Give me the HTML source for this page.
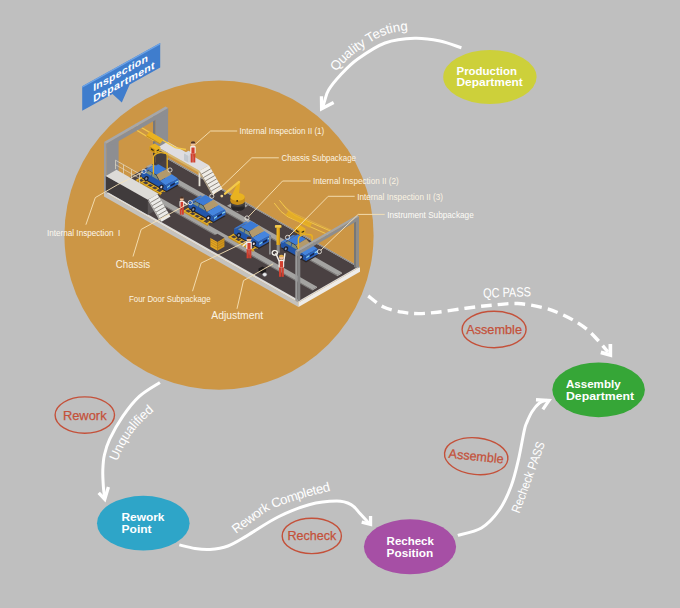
<!DOCTYPE html>
<html lang="en"><head><meta charset="utf-8"><title>Inspection Department Flow</title>
<style>
html,body{margin:0;padding:0;background:#bfbfbf;}
body{width:680px;height:608px;overflow:hidden;font-family:"Liberation Sans", sans-serif;}
svg{display:block;font-family:"Liberation Sans", sans-serif;}
</style></head><body>
<svg width="680" height="608" viewBox="0 0 680 608">
<rect width="680" height="608" fill="#bfbfbf"/>
<circle cx="219" cy="235.2" r="154.6" fill="#cc9645"/>
<g id="illus">
<polygon points="104.0,196.6 298.5,307.1 298.5,302.5 104.0,192.0" fill="#c4c2bf"/>
<polygon points="298.5,307.1 360.0,271.7 360.0,267.1 298.5,302.5" fill="#eeece9"/>
<polygon points="104.0,192.0 298.5,302.5 360.0,267.1 165.5,156.6" fill="#dedcd9"/>
<polygon points="106.2,190.7 299.5,300.5 357.6,267.1 164.3,157.3" fill="#4a4142"/>
<polygon points="121.2,182.1 312.2,290.6 312.2,289.5 121.2,181.0" fill="#7f7e7c"/>
<polygon points="312.2,290.6 317.0,287.8 317.0,286.7 312.2,289.5" fill="#b4b3b1"/>
<polygon points="121.2,181.0 312.2,289.5 317.0,286.7 126.0,178.2" fill="#a4a3a1"/>
<polygon points="146.2,167.7 337.2,276.2 337.2,275.1 146.2,166.6" fill="#7f7e7c"/>
<polygon points="337.2,276.2 342.0,273.5 342.0,272.4 337.2,275.1" fill="#b4b3b1"/>
<polygon points="146.2,166.6 337.2,275.1 342.0,272.4 151.0,163.9" fill="#a4a3a1"/>
<polygon points="164.3,157.3 358.8,267.8 360.0,267.1 165.5,156.6" fill="#8a8886"/>
<polygon points="153.0,150.8 155.6,152.3 155.6,115.3 153.0,113.8" fill="#77787c"/>
<polygon points="155.6,152.3 168.1,145.1 168.1,108.1 155.6,115.3" fill="#8d8e92"/>
<polygon points="153.0,163.8 155.6,165.3 155.6,152.3 153.0,150.8" fill="#3d3738"/>
<polygon points="155.6,165.3 168.1,158.1 168.1,145.1 155.6,152.3" fill="#453f40"/>
<polygon points="354.0,266.9 356.2,268.2 356.2,218.2 354.0,216.9" fill="#777"/>
<polygon points="356.2,268.2 359.0,266.5 359.0,216.5 356.2,218.2" fill="#8d8d8d"/>
<rect x="198.6" y="170.2" width="1.8" height="16" fill="#e8e4da"/>
<polygon points="158.0,149.4 199.5,173.0 199.5,170.8 158.0,147.2" fill="#d6b76e"/>
<polygon points="199.5,173.0 209.0,167.5 209.0,165.3 199.5,170.8" fill="#b9a680"/>
<polygon points="158.0,147.2 199.5,170.8 209.0,165.3 167.5,141.8" fill="#dfdde0"/>
<polygon points="199.5,170.8 213.0,194.5 222.5,189.0 209.0,165.3" fill="#efece6"/>
<polygon points="199.5,173.0 211.0,193.3 213.0,194.5 199.5,170.8" fill="#b9ab90"/>
<polyline points="201.4,174.2 210.9,168.7" fill="none" stroke="#7d766e" stroke-width="0.85"/>
<polyline points="203.4,177.6 212.9,172.1" fill="none" stroke="#7d766e" stroke-width="0.85"/>
<polyline points="205.3,181.0 214.8,175.5" fill="none" stroke="#7d766e" stroke-width="0.85"/>
<polyline points="207.2,184.3 216.7,178.9" fill="none" stroke="#7d766e" stroke-width="0.85"/>
<polyline points="209.1,187.7 218.6,182.3" fill="none" stroke="#7d766e" stroke-width="0.85"/>
<polyline points="211.1,191.1 220.6,185.6" fill="none" stroke="#7d766e" stroke-width="0.85"/>
<polygon points="184.0,160.3 188.5,162.8 188.5,155.8 184.0,153.3" fill="#c3c8ce"/>
<polygon points="188.5,162.8 193.0,160.3 193.0,153.3 188.5,155.8" fill="#d0d4d9"/>
<polygon points="184.0,153.3 188.5,155.8 193.0,153.3 188.5,150.7" fill="#d9dce0"/>
<rect x="190.7" y="153.0" width="2.1" height="9.5" rx="0" fill="#d2402f"/>
<rect x="193.2" y="153.0" width="2.1" height="9.5" rx="0" fill="#d2402f"/>
<rect x="190.2" y="146.1" width="5.5" height="7.4" rx="1" fill="#f3efea"/>
<rect x="191.4" y="147.5" width="3.2" height="6.1" rx="0" fill="#d2402f"/>
<circle cx="193.0" cy="143.9" r="2.3" fill="#efc09a"/>
<path d="M190.7 143.6a2.3 2.3 0 0 1 4.7 0z" fill="#4a2f22"/>
<polyline points="135.5,124.0 175.3,147.6 186.0,149.5" fill="none" stroke="#f3c94a" stroke-width="1.3"/>
<polyline points="131.0,126.7 154.5,141.0" fill="none" stroke="#f3c94a" stroke-width="1.3"/>
<polyline points="167.2,170.0 167.2,154.6" fill="none" stroke="#e9b220" stroke-width="1.3"/>
<polygon points="135.9,180.1 160.9,194.3 162.1,193.6 137.1,179.4" fill="#e9b220"/>
<polygon points="139.7,177.9 164.7,192.1 166.1,191.3 141.1,177.1" fill="#e9b220"/>
<polygon points="135.9,181.2 160.9,195.4 160.9,194.3 135.9,180.1" fill="#c98f17"/>
<polygon points="135.9,180.1 137.2,180.8 142.4,177.8 141.1,177.1" fill="#e9b220"/>
<polygon points="140.4,182.6 141.7,183.3 146.9,180.4 145.6,179.6" fill="#e9b220"/>
<polygon points="144.9,185.2 146.2,185.9 151.4,182.9 150.1,182.2" fill="#e9b220"/>
<polygon points="149.4,187.7 150.7,188.5 155.9,185.5 154.6,184.7" fill="#e9b220"/>
<polygon points="153.9,190.3 155.2,191.0 160.4,188.0 159.1,187.3" fill="#e9b220"/>
<polygon points="158.4,192.8 159.7,193.6 164.9,190.6 163.6,189.8" fill="#e9b220"/>
<polygon points="141.5,178.1 166.5,192.3 178.5,185.4 153.5,171.2" fill="#2a2526"/>
<polygon points="141.5,176.7 141.5,171.7 143.7,172.1 147.3,170.6 155.5,175.2 159.8,181.1 165.7,185.2 166.5,186.9 166.5,190.9" fill="#2256ab"/>
<polygon points="166.5,190.9 178.5,184.0 178.5,180.0 177.7,178.3 165.7,185.2 166.5,186.9" fill="#2b63bd"/>
<polygon points="141.5,171.7 143.7,172.1 155.7,165.2 153.5,164.8" fill="#3c7bd6"/>
<polygon points="143.7,172.1 148.2,170.1 158.4,164.2 155.7,165.2" fill="#6f86a8"/>
<polygon points="148.2,170.1 156.4,174.7 166.6,168.9 158.4,164.2" fill="#3c7bd6"/>
<polygon points="156.4,174.7 159.8,181.1 171.8,174.2 166.6,168.9" fill="#b39a6c"/>
<polygon points="159.8,181.1 165.7,185.2 177.7,178.3 171.8,174.2" fill="#4585de"/>
<polygon points="145.4,172.6 148.8,171.0 152.0,172.8 151.1,175.8" fill="#7f8f7c"/>
<polygon points="151.9,176.3 152.8,173.3 156.2,175.2 158.3,179.9" fill="#7f8f7c"/>
<ellipse cx="146.3" cy="178.6" rx="2.2" ry="2.7" fill="#1b2030" transform="rotate(28 146.3 178.6)"/>
<ellipse cx="146.3" cy="178.6" rx="1.0" ry="1.3" fill="#8d93a3" transform="rotate(28 146.3 178.6)"/>
<ellipse cx="161.3" cy="187.1" rx="2.2" ry="2.7" fill="#1b2030" transform="rotate(28 161.3 187.1)"/>
<ellipse cx="161.3" cy="187.1" rx="1.0" ry="1.3" fill="#e6d6da" transform="rotate(28 161.3 187.1)"/>
<polygon points="167.0,188.1 170.0,186.1 170.0,184.9 167.0,186.9" fill="#8fdcf0"/>
<polygon points="175.2,183.1 178.2,181.7 178.2,180.5 175.2,181.9" fill="#8fdcf0"/>
<polygon points="170.4,186.7 174.8,184.2 174.8,182.4 170.4,184.9" fill="#15244a"/>
<polygon points="150.0,131.6 163.6,139.6 160.2,143.4 146.4,135.2" fill="#e9b220"/>
<polygon points="146.4,135.2 160.2,143.4 160.2,144.6 146.4,136.4" fill="#c98f17"/>
<polygon points="149.6,146.2 154.6,143.6 160.4,147.0 160.4,151.0 155.2,153.4 149.6,150.2" fill="#e9b220"/>
<polygon points="149.6,146.2 155.2,149.4 155.2,153.4 149.6,150.2" fill="#c98f17"/>
<polygon points="151.0,148.2 153.6,149.7 153.6,151.3 151.0,149.8" fill="#3b3016"/>
<polygon points="156.6,150.2 159.2,149.0 159.2,150.4 156.6,151.6" fill="#3b3016"/>
<path d="M153.4 174.5V157.4Q153.6 155.4 155.4 154.4L158.0 153.0Q159.6 152.2 161.6 152.6L165.6 153.3Q167.2 153.6 167.2 155.2" fill="none" stroke="#e9b220" stroke-width="1.4"/>
<polygon points="104.0,192.0 106.6,193.5 106.6,143.5 104.0,142.0" fill="#9b9ca0"/>
<polygon points="106.6,193.5 118.6,186.6 118.6,136.6 106.6,143.5" fill="#8d8e92"/>
<polygon points="106.6,148.1 168.1,112.7 168.1,108.1 106.6,143.5" fill="#8d8e92"/>
<polygon points="104.0,142.0 106.6,143.5 168.1,108.1 165.5,106.6" fill="#a6a7aa"/>
<polygon points="105.8,191.0 147.8,214.8 147.8,199.8 105.8,176.0" fill="#403b3c"/>
<polygon points="147.8,214.8 158.5,208.7 158.5,193.7 147.8,199.8" fill="#5a5556"/>
<polygon points="105.8,176.0 147.8,199.8 158.5,193.7 116.5,169.8" fill="#dddbd7"/>
<polygon points="148.5,199.4 161.5,221.8 170.5,216.6 157.5,194.2" fill="#ecebe8"/>
<polyline points="150.4,202.6 159.4,197.4" fill="none" stroke="#7d7873" stroke-width="0.85"/>
<polyline points="152.2,205.8 161.2,200.6" fill="none" stroke="#7d7873" stroke-width="0.85"/>
<polyline points="154.1,209.0 163.1,203.8" fill="none" stroke="#7d7873" stroke-width="0.85"/>
<polyline points="155.9,212.2 164.9,207.0" fill="none" stroke="#7d7873" stroke-width="0.85"/>
<polyline points="157.8,215.4 166.8,210.2" fill="none" stroke="#7d7873" stroke-width="0.85"/>
<polyline points="159.6,218.6 168.6,213.4" fill="none" stroke="#7d7873" stroke-width="0.85"/>
<polygon points="148.5,201.4 159.5,220.7 161.5,221.8 148.5,199.4" fill="#bdbab5"/>
<polyline points="115.5,169.2 115.5,160.2" fill="none" stroke="#e4dcc8" stroke-width="0.7"/>
<polyline points="123.5,173.8 123.5,164.8" fill="none" stroke="#e4dcc8" stroke-width="0.7"/>
<polyline points="131.5,178.3 131.5,169.3" fill="none" stroke="#e4dcc8" stroke-width="0.7"/>
<polyline points="139.5,182.9 139.5,173.9" fill="none" stroke="#e4dcc8" stroke-width="0.7"/>
<polyline points="115.5,160.2 141.0,174.7" fill="none" stroke="#e4dcc8" stroke-width="0.7"/>
<polyline points="115.5,164.7 141.0,179.2" fill="none" stroke="#e4dcc8" stroke-width="0.6"/>
<polygon points="227.0,205.8 237.5,211.8 248.0,205.7 237.5,199.8" fill="#a3a2a0"/>
<ellipse cx="238.0" cy="207.3" rx="6.8" ry="3.8" fill="#262324"/>
<rect x="231.2" y="202.9" width="13.6" height="4.4" fill="#343031"/>
<ellipse cx="238.0" cy="202.9" rx="6.8" ry="3.8" fill="#454142"/>
<ellipse cx="237.6" cy="201.1" rx="7.2" ry="3.9" fill="#c98f17"/>
<rect x="230.4" y="196.9" width="14.4" height="4.2" fill="#c98f17"/>
<ellipse cx="237.6" cy="196.9" rx="7.2" ry="3.9" fill="#e9b220"/>
<circle cx="237.2" cy="200.9" r="0.9" fill="#3a2d12"/>
<path d="M231.8 195.5L238.4 181.1L240.2 181.9L238.6 197.0Z" fill="#e9b220"/>
<path d="M239.0 181.9L225.0 193.7" stroke="#f3c94a" stroke-width="2.3" stroke-linecap="round" fill="none"/>
<circle cx="221.8" cy="196.1" r="1.4" fill="#f3d692"/>
<polygon points="182.9,210.9 207.9,225.1 209.1,224.4 184.1,210.2" fill="#e9b220"/>
<polygon points="186.7,208.7 211.7,222.9 213.1,222.1 188.1,207.9" fill="#e9b220"/>
<polygon points="182.9,212.0 207.9,226.2 207.9,225.1 182.9,210.9" fill="#c98f17"/>
<polygon points="182.9,210.9 184.2,211.6 189.4,208.6 188.1,207.9" fill="#e9b220"/>
<polygon points="187.4,213.4 188.7,214.2 193.9,211.2 192.6,210.5" fill="#e9b220"/>
<polygon points="191.9,216.0 193.2,216.7 198.4,213.8 197.1,213.0" fill="#e9b220"/>
<polygon points="196.4,218.6 197.7,219.3 202.9,216.3 201.6,215.6" fill="#e9b220"/>
<polygon points="200.9,221.1 202.2,221.9 207.4,218.9 206.1,218.1" fill="#e9b220"/>
<polygon points="205.4,223.7 206.7,224.4 211.9,221.4 210.6,220.7" fill="#e9b220"/>
<polygon points="188.5,208.9 213.5,223.1 225.5,216.2 200.5,202.0" fill="#2a2526"/>
<polygon points="188.5,207.5 188.5,202.5 190.7,203.0 194.3,201.4 202.5,206.1 206.8,211.9 212.7,216.1 213.5,217.7 213.5,221.7" fill="#2256ab"/>
<polygon points="213.5,221.7 225.5,214.8 225.5,210.8 224.7,209.2 212.7,216.1 213.5,217.7" fill="#2b63bd"/>
<polygon points="188.5,202.5 190.7,203.0 202.7,196.1 200.5,195.6" fill="#3c7bd6"/>
<polygon points="190.7,203.0 195.2,200.9 205.4,195.0 202.7,196.1" fill="#6f86a8"/>
<polygon points="195.2,200.9 203.4,205.6 213.6,199.7 205.4,195.0" fill="#3c7bd6"/>
<polygon points="203.4,205.6 206.8,211.9 218.8,205.0 213.6,199.7" fill="#b39a6c"/>
<polygon points="206.8,211.9 212.7,216.1 224.7,209.2 218.8,205.0" fill="#4585de"/>
<polygon points="192.4,203.5 195.8,201.9 199.0,203.7 198.1,206.7" fill="#7f8f7c"/>
<polygon points="198.9,207.1 199.8,204.1 203.2,206.1 205.3,210.8" fill="#7f8f7c"/>
<ellipse cx="193.3" cy="209.5" rx="2.2" ry="2.7" fill="#1b2030" transform="rotate(28 193.3 209.5)"/>
<ellipse cx="193.3" cy="209.5" rx="1.0" ry="1.3" fill="#8d93a3" transform="rotate(28 193.3 209.5)"/>
<ellipse cx="208.3" cy="218.0" rx="2.2" ry="2.7" fill="#1b2030" transform="rotate(28 208.3 218.0)"/>
<ellipse cx="208.3" cy="218.0" rx="1.0" ry="1.3" fill="#e6d6da" transform="rotate(28 208.3 218.0)"/>
<polygon points="214.0,218.9 217.0,216.9 217.0,215.7 214.0,217.7" fill="#8fdcf0"/>
<polygon points="222.2,213.9 225.2,212.5 225.2,211.3 222.2,212.7" fill="#8fdcf0"/>
<polygon points="217.4,217.6 221.8,215.0 221.8,213.2 217.4,215.8" fill="#15244a"/>
<rect x="179.8" y="206.6" width="1.8" height="8.1" rx="0" fill="#d2402f"/>
<rect x="182.0" y="206.6" width="1.8" height="8.1" rx="0" fill="#d2402f"/>
<rect x="179.5" y="200.8" width="4.7" height="6.3" rx="1" fill="#f3efea"/>
<rect x="180.5" y="201.9" width="2.7" height="5.2" rx="0" fill="#d2402f"/>
<path d="M183.6 201.7L186.8 204.4" stroke="#f3efea" stroke-width="1.5" fill="none" stroke-linecap="round"/>
<circle cx="181.8" cy="198.9" r="2.0" fill="#efc09a"/>
<path d="M179.8 198.6a2.0 2.0 0 0 1 4.0 0z" fill="#4a2f22"/>
<polygon points="228.4,236.8 253.4,251.0 254.6,250.3 229.6,236.1" fill="#e9b220"/>
<polygon points="232.2,234.6 257.2,248.8 258.6,248.0 233.6,233.8" fill="#e9b220"/>
<polygon points="228.4,237.9 253.4,252.1 253.4,251.0 228.4,236.8" fill="#c98f17"/>
<polygon points="228.4,236.7 229.7,237.5 234.9,234.5 233.6,233.7" fill="#e9b220"/>
<polygon points="232.9,239.3 234.2,240.0 239.4,237.0 238.1,236.3" fill="#e9b220"/>
<polygon points="237.4,241.8 238.7,242.6 243.9,239.6 242.6,238.9" fill="#e9b220"/>
<polygon points="241.9,244.4 243.2,245.1 248.4,242.2 247.1,241.4" fill="#e9b220"/>
<polygon points="246.4,247.0 247.7,247.7 252.9,244.7 251.6,244.0" fill="#e9b220"/>
<polygon points="250.9,249.5 252.2,250.3 257.4,247.3 256.1,246.5" fill="#e9b220"/>
<polygon points="234.0,234.8 259.0,249.0 271.0,242.1 246.0,227.9" fill="#2a2526"/>
<polygon points="234.0,233.4 234.0,228.4 236.2,228.8 239.8,227.3 248.0,231.9 252.3,237.8 258.2,241.9 259.0,243.6 259.0,247.6" fill="#2256ab"/>
<polygon points="259.0,247.6 271.0,240.7 271.0,236.7 270.2,235.0 258.2,241.9 259.0,243.6" fill="#2b63bd"/>
<polygon points="234.0,228.4 236.2,228.8 248.2,221.9 246.0,221.5" fill="#3c7bd6"/>
<polygon points="236.2,228.8 240.7,226.8 250.9,220.9 248.2,221.9" fill="#6f86a8"/>
<polygon points="240.7,226.8 248.9,231.4 259.1,225.5 250.9,220.9" fill="#3c7bd6"/>
<polygon points="248.9,231.4 252.3,237.8 264.3,230.9 259.1,225.5" fill="#b39a6c"/>
<polygon points="252.3,237.8 258.2,241.9 270.2,235.0 264.3,230.9" fill="#4585de"/>
<polygon points="237.9,229.3 241.3,227.7 244.5,229.5 243.6,232.5" fill="#7f8f7c"/>
<polygon points="244.4,233.0 245.3,230.0 248.7,231.9 250.8,236.6" fill="#7f8f7c"/>
<ellipse cx="238.8" cy="235.3" rx="2.2" ry="2.7" fill="#1b2030" transform="rotate(28 238.8 235.3)"/>
<ellipse cx="238.8" cy="235.3" rx="1.0" ry="1.3" fill="#8d93a3" transform="rotate(28 238.8 235.3)"/>
<ellipse cx="253.8" cy="243.8" rx="2.2" ry="2.7" fill="#1b2030" transform="rotate(28 253.8 243.8)"/>
<ellipse cx="253.8" cy="243.8" rx="1.0" ry="1.3" fill="#e6d6da" transform="rotate(28 253.8 243.8)"/>
<polygon points="259.4,244.8 262.4,242.8 262.4,241.6 259.4,243.6" fill="#8fdcf0"/>
<polygon points="267.7,239.8 270.7,238.3 270.7,237.1 267.7,238.6" fill="#8fdcf0"/>
<polygon points="262.9,243.4 267.2,240.9 267.2,239.1 262.9,241.6" fill="#15244a"/>
<polyline points="279.4,200.2 287.0,209.5 295.0,215.7 335.0,233.0" fill="none" stroke="#f3c94a" stroke-width="1.0" opacity="0.95"/>
<polyline points="274.2,203.0 281.0,211.5 288.0,216.9 329.5,235.3" fill="none" stroke="#f3c94a" stroke-width="1.0" opacity="0.95"/>
<polyline points="283.0,205.0 292.0,212.5 332.0,230.5" fill="none" stroke="#f3c94a" stroke-width="0.7" opacity="0.6"/>
<rect x="269" y="235.5" width="1.8" height="19" fill="#8b8b8b"/>
<rect x="276.7" y="240" width="3" height="12.8" fill="#8d8c8a"/>
<rect x="276.5" y="227.4" width="3.4" height="17.5" fill="#e9b220"/>
<rect x="278.7" y="227.4" width="1.2" height="17.5" fill="#c98f17"/>
<rect x="274.9" y="225" width="6.6" height="2.8" rx="0.9" fill="#f3c94a"/>
<polyline points="312.2,251.5 312.2,236.1" fill="none" stroke="#e9b220" stroke-width="1.3"/>
<polygon points="281.0,248.3 306.0,262.5 318.0,255.6 293.0,241.4" fill="#2a2526"/>
<polygon points="281.0,246.9 281.0,241.9 283.2,242.4 286.8,240.8 295.0,245.5 299.3,251.3 305.2,255.5 306.0,257.1 306.0,261.1" fill="#2256ab"/>
<polygon points="306.0,261.1 318.0,254.2 318.0,250.2 317.2,248.6 305.2,255.5 306.0,257.1" fill="#2b63bd"/>
<polygon points="281.0,241.9 283.2,242.4 295.2,235.5 293.0,235.0" fill="#3c7bd6"/>
<polygon points="283.2,242.4 287.7,240.3 297.9,234.4 295.2,235.5" fill="#6f86a8"/>
<polygon points="287.7,240.3 295.9,245.0 306.1,239.1 297.9,234.4" fill="#3c7bd6"/>
<polygon points="295.9,245.0 299.3,251.3 311.3,244.4 306.1,239.1" fill="#b39a6c"/>
<polygon points="299.3,251.3 305.2,255.5 317.2,248.6 311.3,244.4" fill="#4585de"/>
<polygon points="284.9,242.8 288.3,241.2 291.5,243.1 290.6,246.1" fill="#7f8f7c"/>
<polygon points="291.4,246.5 292.3,243.5 295.7,245.5 297.8,250.2" fill="#7f8f7c"/>
<ellipse cx="285.8" cy="248.9" rx="2.2" ry="2.7" fill="#1b2030" transform="rotate(28 285.8 248.9)"/>
<ellipse cx="285.8" cy="248.9" rx="1.0" ry="1.3" fill="#8d93a3" transform="rotate(28 285.8 248.9)"/>
<ellipse cx="300.8" cy="257.4" rx="2.2" ry="2.7" fill="#1b2030" transform="rotate(28 300.8 257.4)"/>
<ellipse cx="300.8" cy="257.4" rx="1.0" ry="1.3" fill="#e6d6da" transform="rotate(28 300.8 257.4)"/>
<polygon points="306.4,258.3 309.4,256.3 309.4,255.1 306.4,257.1" fill="#8fdcf0"/>
<polygon points="314.7,253.3 317.7,251.9 317.7,250.7 314.7,252.1" fill="#8fdcf0"/>
<polygon points="309.9,257.0 314.2,254.4 314.2,252.6 309.9,255.2" fill="#15244a"/>
<polygon points="288.5,210.6 312.0,223.4 309.6,227.8 285.6,215.0" fill="#e9b220" opacity="0.8"/>
<polygon points="294.6,227.7 299.6,225.1 305.4,228.5 305.4,232.5 300.2,234.9 294.6,231.7" fill="#e9b220"/>
<polygon points="294.6,227.7 300.2,230.9 300.2,234.9 294.6,231.7" fill="#c98f17"/>
<polygon points="296.0,229.7 298.6,231.2 298.6,232.8 296.0,231.3" fill="#3b3016"/>
<polygon points="301.6,231.7 304.2,230.5 304.2,231.9 301.6,233.1" fill="#3b3016"/>
<path d="M298.4 256.0V238.9Q298.6 236.9 300.4 235.9L303.0 234.5Q304.6 233.7 306.6 234.1L310.6 234.8Q312.2 235.1 312.2 236.7" fill="none" stroke="#e9b220" stroke-width="1.4"/>
<polygon points="210.4,246.7 217.4,250.7 217.4,241.7 210.4,237.7" fill="#e2a524"/>
<polygon points="217.4,250.7 224.4,246.7 224.4,237.7 217.4,241.7" fill="#d0951c"/>
<polygon points="210.4,237.7 217.4,241.7 224.4,237.7 217.4,233.7" fill="#4a4142"/>
<polyline points="210.4,244.2 217.4,248.2 224.4,244.2" fill="none" stroke="#a87512" stroke-width="0.5"/>
<polyline points="210.4,241.9 217.4,245.9 224.4,241.9" fill="none" stroke="#a87512" stroke-width="0.5"/>
<polyline points="210.4,239.6 217.4,243.6 224.4,239.6" fill="none" stroke="#a87512" stroke-width="0.5"/>
<rect x="246.6" y="248.6" width="2.2" height="9.7" rx="0" fill="#d2402f"/>
<rect x="249.2" y="248.6" width="2.2" height="9.7" rx="0" fill="#d2402f"/>
<rect x="246.2" y="241.6" width="5.6" height="7.6" rx="1" fill="#f3efea"/>
<rect x="247.4" y="243.0" width="3.2" height="6.3" rx="0" fill="#d2402f"/>
<path d="M246.8 242.7L243.1 245.9" stroke="#f3efea" stroke-width="1.5" fill="none" stroke-linecap="round"/>
<circle cx="249.0" cy="239.3" r="2.4" fill="#efc09a"/>
<path d="M246.6 239.0a2.4 2.4 0 0 1 4.8 0z" fill="#4a2f22"/>
<path d="M258.5 268.6l4-2.2 3.6 2v3.2l-4 2.2-3.6-2z" fill="#1e1b1c"/>
<ellipse cx="264.7" cy="274.6" rx="2.1" ry="1.8" fill="#ececee" stroke="#8d9097" stroke-width="0.5"/>
<rect x="279.0" y="266.9" width="2.2" height="9.9" rx="0" fill="#d2402f"/>
<rect x="281.6" y="266.9" width="2.2" height="9.9" rx="0" fill="#d2402f"/>
<rect x="278.5" y="259.7" width="5.7" height="7.7" rx="1" fill="#f3efea"/>
<rect x="279.8" y="261.1" width="3.3" height="6.4" rx="0" fill="#d2402f"/>
<path d="M279.0 260.8L275.9 253.7M283.8 260.8L284.9 253.7" stroke="#f3efea" stroke-width="1.5" fill="none" stroke-linecap="round"/>
<circle cx="281.4" cy="257.4" r="2.4" fill="#efc09a"/>
<path d="M279.0 257.1a2.4 2.4 0 0 1 4.8 0z" fill="#e2b04a"/>
<ellipse cx="274.8" cy="252.8" rx="2.7" ry="2.3" fill="none" stroke="#eef0ea" stroke-width="1.2"/>
<polygon points="297.5,255.3 359.0,219.9 359.0,216.5 297.5,251.9" fill="#8d8d8d"/>
<polygon points="295.3,250.7 297.5,251.9 359.0,216.5 356.8,215.3" fill="#a5a5a5"/>
<polygon points="295.3,300.7 297.5,301.9 297.5,251.9 295.3,250.7" fill="#9b9b9b"/>
<polygon points="297.5,301.9 300.3,300.3 300.3,250.3 297.5,251.9" fill="#858585"/>
</g>
<polyline points="237.2,131.0 210.6,131.0 195.3,144.4" fill="none" stroke="#f6e2b8" stroke-width="0.9" stroke-linejoin="round"/>
<text x="239.5" y="134.3" font-size="8.5" fill="#fbf3e2" textLength="84.8" lengthAdjust="spacingAndGlyphs">Internal Inspection II (1)</text>
<polyline points="278.8,157.8 251.8,157.8 213.2,194.8" fill="none" stroke="#f6e2b8" stroke-width="0.9" stroke-linejoin="round"/>
<circle cx="211.8" cy="196.2" r="2.1" fill="none" stroke="#f4efe6" stroke-width="0.8"/>
<text x="281.6" y="161" font-size="8.5" fill="#fbf3e2" textLength="74.4" lengthAdjust="spacingAndGlyphs">Chassis Subpackage</text>
<polyline points="310.6,181.0 282.6,181.0 248.6,216.6" fill="none" stroke="#f6e2b8" stroke-width="0.9" stroke-linejoin="round"/>
<circle cx="247.0" cy="218.0" r="2.1" fill="none" stroke="#f4efe6" stroke-width="0.8"/>
<text x="313" y="184.4" font-size="8.5" fill="#fbf3e2" textLength="85.8" lengthAdjust="spacingAndGlyphs">Internal Inspection II (2)</text>
<polyline points="354.7,196.3 328.2,196.3 289.0,236.0" fill="none" stroke="#f6e2b8" stroke-width="0.9" stroke-linejoin="round"/>
<circle cx="287.5" cy="237.4" r="2.1" fill="none" stroke="#f4efe6" stroke-width="0.8"/>
<text x="357.2" y="199.6" font-size="8.5" fill="#fbf3e2" textLength="85.8" lengthAdjust="spacingAndGlyphs">Internal Inspection II (3)</text>
<polyline points="384.7,214.4 358.2,214.4 320.8,250.2" fill="none" stroke="#f6e2b8" stroke-width="0.9" stroke-linejoin="round"/>
<circle cx="319.4" cy="251.6" r="2.1" fill="none" stroke="#f4efe6" stroke-width="0.8"/>
<text x="387.2" y="217.8" font-size="8.5" fill="#fdfbf6" textLength="86.5" lengthAdjust="spacingAndGlyphs">Instrument Subpackage</text>
<polyline points="85.9,224.7 95.3,197.6 117.6,184.7 142.4,172.2" fill="none" stroke="#f6e2b8" stroke-width="0.9" stroke-linejoin="round"/>
<circle cx="144.0" cy="171.3" r="2.1" fill="none" stroke="#f4efe6" stroke-width="0.8"/>
<text x="47" y="235.8" font-size="8.5" fill="#fdf8ee" textLength="73.2" lengthAdjust="spacingAndGlyphs">Internal Inspection  I</text>
<polyline points="133.0,256.5 141.2,229.4 188.5,203.6" fill="none" stroke="#f6e2b8" stroke-width="0.9" stroke-linejoin="round"/>
<circle cx="190.3" cy="202.6" r="2.1" fill="none" stroke="#f4efe6" stroke-width="0.8"/>
<text x="115.8" y="267.5" font-size="10.6" fill="#fbf3e2" textLength="34.4" lengthAdjust="spacingAndGlyphs">Chassis</text>
<polyline points="192.5,291.2 201.2,263.0 248.2,240.6" fill="none" stroke="#f6e2b8" stroke-width="0.9" stroke-linejoin="round"/>
<text x="129" y="302.2" font-size="8.5" fill="#fbf3e2" textLength="81.6" lengthAdjust="spacingAndGlyphs">Four Door Subpackage</text>
<polyline points="237.0,308.8 243.5,280.6 273.2,263.8" fill="none" stroke="#f6e2b8" stroke-width="0.9" stroke-linejoin="round"/>
<text x="211.3" y="319.4" font-size="10.6" fill="#fbf3e2" textLength="51.8" lengthAdjust="spacingAndGlyphs">Adjustment</text>
<circle cx="170.0" cy="170.0" r="2.1" fill="none" stroke="#f4efe6" stroke-width="0.8"/>
<circle cx="274.8" cy="252.8" r="2.4" fill="none" stroke="#f4efe6" stroke-width="0.8"/>
<g transform="matrix(1 -0.556 0 1 82.2 86.3)"><path d="M0 0H78V24.5H47.5L39.6 38.1L30.3 24.5H0Z" fill="#3f7dcd"/><path d="M0 0H78V1.5H0Z" fill="#6ea4e6"/><text x="11" y="11.3" font-size="10.5" font-weight="700" fill="#fff" letter-spacing="0.25">Inspection</text><text x="11" y="22.3" font-size="10.5" font-weight="700" fill="#fff" letter-spacing="0.35">Department</text></g>
<ellipse cx="489.9" cy="77" rx="46.7" ry="27" fill="#cdd03a"/>
<text x="456.5" y="74.8" font-size="10.8" font-weight="700" fill="#fff" textLength="60.5" lengthAdjust="spacingAndGlyphs">Production</text>
<text x="456.5" y="86.3" font-size="10.8" font-weight="700" fill="#fff" textLength="66.3" lengthAdjust="spacingAndGlyphs">Department</text>
<ellipse cx="598.6" cy="389.8" rx="46.3" ry="27.4" fill="#36a637"/>
<text x="566" y="388.2" font-size="10.8" font-weight="700" fill="#fff" textLength="54.6" lengthAdjust="spacingAndGlyphs">Assembly</text>
<text x="566" y="399.8" font-size="10.8" font-weight="700" fill="#fff" textLength="68.2" lengthAdjust="spacingAndGlyphs">Department</text>
<ellipse cx="143.3" cy="523.2" rx="46.3" ry="27.4" fill="#2ea5c8"/>
<text x="121.5" y="521.4" font-size="10.8" font-weight="700" fill="#fff" textLength="43" lengthAdjust="spacingAndGlyphs">Rework</text>
<text x="121.5" y="533.2" font-size="10.8" font-weight="700" fill="#fff" textLength="30.1" lengthAdjust="spacingAndGlyphs">Point</text>
<ellipse cx="410" cy="546.8" rx="46.1" ry="27.5" fill="#a64fa5"/>
<text x="386.6" y="545.1" font-size="10.8" font-weight="700" fill="#fff" textLength="47.2" lengthAdjust="spacingAndGlyphs">Recheck</text>
<text x="386.6" y="556.7" font-size="10.8" font-weight="700" fill="#fff" textLength="46.6" lengthAdjust="spacingAndGlyphs">Position</text>
<g><ellipse cx="84.8" cy="415.1" rx="29.7" ry="18.2" fill="none" stroke="#c4513a" stroke-width="1.4"/><text x="62.9" y="419.6" font-size="12.9" fill="#c4513a" stroke="#c4513a" stroke-width="0.25" textLength="43.7" lengthAdjust="spacingAndGlyphs">Rework</text></g>
<g><ellipse cx="494.1" cy="329.5" rx="32" ry="18.2" fill="none" stroke="#c4513a" stroke-width="1.4"/><text x="466.2" y="334.0" font-size="12.9" fill="#c4513a" stroke="#c4513a" stroke-width="0.25" textLength="55.8" lengthAdjust="spacingAndGlyphs">Assemble</text></g>
<g transform="rotate(6 476.2 456.2)"><ellipse cx="476.2" cy="456.2" rx="31.8" ry="18.3" fill="none" stroke="#c4513a" stroke-width="1.4"/><text x="448.6" y="460.7" font-size="12.9" fill="#c4513a" stroke="#c4513a" stroke-width="0.25" textLength="55.3" lengthAdjust="spacingAndGlyphs">Assemble</text></g>
<g><ellipse cx="311.8" cy="535.9" rx="29.6" ry="17.7" fill="none" stroke="#c4513a" stroke-width="1.4"/><text x="287.4" y="540.4" font-size="12.9" fill="#c4513a" stroke="#c4513a" stroke-width="0.25" textLength="48.9" lengthAdjust="spacingAndGlyphs">Recheck</text></g>
<path d="M461.4 47.8C457.8 46.7 447.8 42.6 440.0 41.0C432.2 39.4 423.9 37.9 414.7 38.2C405.5 38.5 394.6 39.5 385.0 43.0C375.4 46.5 364.8 54.0 357.4 59.3C350.0 64.6 345.3 69.9 340.5 75.0C335.7 80.1 331.3 85.5 328.7 89.8C326.1 94.1 325.5 98.3 324.6 101.0C323.7 103.7 323.4 105.2 323.2 106.0" fill="none" stroke="#fff" stroke-width="3" stroke-linecap="butt"/>
<path d="M320.0 111.4L319.8 96.2L323.1 96.2L323.2 106.0L332.9 101.1L334.4 104.0Z" fill="#fff"/>
<path d="M368.2 296.0C370.8 297.8 377.8 304.3 383.5 307.0C389.2 309.7 396.5 311.1 402.4 312.2C408.3 313.3 412.9 313.6 418.8 313.6C424.7 313.6 429.8 313.1 437.6 312.2C445.5 311.3 456.9 309.4 465.9 308.2C474.9 307.0 483.2 306.0 491.8 305.2C500.4 304.4 509.2 303.1 517.6 303.5C526.0 303.9 535.5 305.9 542.4 307.5C549.3 309.1 553.7 310.9 558.8 313.0C563.9 315.1 568.3 317.3 573.0 320.0C577.7 322.7 582.7 325.9 587.0 329.4C591.3 332.9 595.3 337.4 598.8 341.2C602.3 345.0 606.5 350.2 608.0 352.0" fill="none" stroke="#fff" stroke-width="3.4" stroke-linecap="butt" stroke-dasharray="10.8 6.0"/>
<path d="M612.2 357.5L600.3 354.2L601.3 350.6L608.5 352.6L608.5 343.9L612.2 343.9Z" fill="#fff"/>
<path d="M159.9 382.5C156.5 384.8 145.5 390.8 139.3 396.4C133.1 402.0 127.8 409.1 122.9 416.2C118.0 423.3 112.8 432.7 109.7 439.2C106.6 445.7 105.6 449.9 104.4 455.0C103.2 460.1 103.0 464.7 102.8 470.0C102.6 475.3 103.1 482.5 103.4 487.0C103.7 491.5 104.4 495.3 104.6 497.0" fill="none" stroke="#fff" stroke-width="3" stroke-linecap="butt"/>
<path d="M105.5 502.4L97.5 494.0L99.9 491.7L104.0 496.0L106.8 486.5L110.0 487.4Z" fill="#fff"/>
<path d="M179.3 544.9C181.9 545.5 189.9 547.7 195.0 548.5C200.1 549.3 204.5 549.9 210.0 549.5C215.5 549.1 221.8 548.3 228.0 546.0C234.2 543.7 238.9 540.4 247.2 535.6C255.5 530.8 267.7 522.1 278.0 517.0C288.3 511.9 299.2 507.4 309.0 504.7C318.8 502.0 329.8 501.0 336.8 501.0C343.8 501.0 347.2 502.5 351.1 504.6C355.0 506.7 357.1 510.5 360.0 513.6C362.9 516.7 367.2 521.4 368.6 523.0" fill="none" stroke="#fff" stroke-width="3" stroke-linecap="butt"/>
<path d="M372.2 526.4L361.3 523.7L362.1 520.5L368.9 522.2L368.9 516.1L372.2 516.1Z" fill="#fff"/>
<path d="M457.8 535.4C461.7 534.2 474.5 532.2 481.4 528.0C488.3 523.8 494.3 517.1 499.2 510.2C504.1 503.3 507.8 494.9 511.0 486.5C514.2 478.1 516.2 469.3 518.4 459.9C520.6 450.5 522.9 436.4 524.3 430.3C525.7 424.2 525.3 426.1 526.6 423.0C527.9 419.9 529.9 415.1 532.0 411.8C534.1 408.5 536.9 404.9 539.4 403.0C541.9 401.1 545.7 400.7 547.0 400.2" fill="none" stroke="#fff" stroke-width="3" stroke-linecap="butt"/>
<path d="M552.0 398.9L536.1 398.1L535.9 401.4L545.9 401.9L541.5 408.4L544.2 410.3Z" fill="#fff"/>
<path id="tp1" d="M330.9 79.8C332.5 77.6 335.8 71.6 340.3 66.8C344.8 62.0 350.2 56.4 357.7 51.1C365.2 45.8 375.8 38.3 385.3 34.8C394.9 31.3 405.8 30.3 415.0 30.0C424.2 29.7 432.5 31.2 440.3 32.8C448.1 34.4 458.1 38.5 461.7 39.6" fill="none"/>
<text font-size="13.3" fill="#fff" letter-spacing="-0.13"><textPath href="#tp1" startOffset="9.5">Quality Testing</textPath></text>
<text transform="translate(483.2 297.7) rotate(-1.80)" font-size="13.4" fill="#fff" textLength="47.8" lengthAdjust="spacingAndGlyphs">QC PASS</text>
<path id="tp3" d="M117.0 461.5C118.7 458.1 123.2 447.2 127.0 441.0C130.8 434.8 135.2 429.2 140.0 424.0C144.8 418.8 152.9 411.9 155.5 409.5" fill="none"/>
<text font-size="13" fill="#fff" letter-spacing="-0.14"><textPath href="#tp3" startOffset="0">Unqualified</textPath></text>
<path id="tp4" d="M236.0 534.0C238.8 531.9 247.2 525.6 253.0 521.5C258.8 517.4 262.8 513.2 270.6 509.5C278.4 505.8 289.9 502.2 300.0 499.0C310.1 495.8 325.8 491.9 331.0 490.5" fill="none"/>
<text font-size="13.1" fill="#fff" letter-spacing="-0.4"><textPath href="#tp4" startOffset="0">Rework Completed</textPath></text>
<text transform="translate(519.3 513.8) rotate(-69.89)" font-size="12.6" fill="#fff" textLength="74.8" lengthAdjust="spacingAndGlyphs">Recheck PASS</text>
</svg>
</body></html>
